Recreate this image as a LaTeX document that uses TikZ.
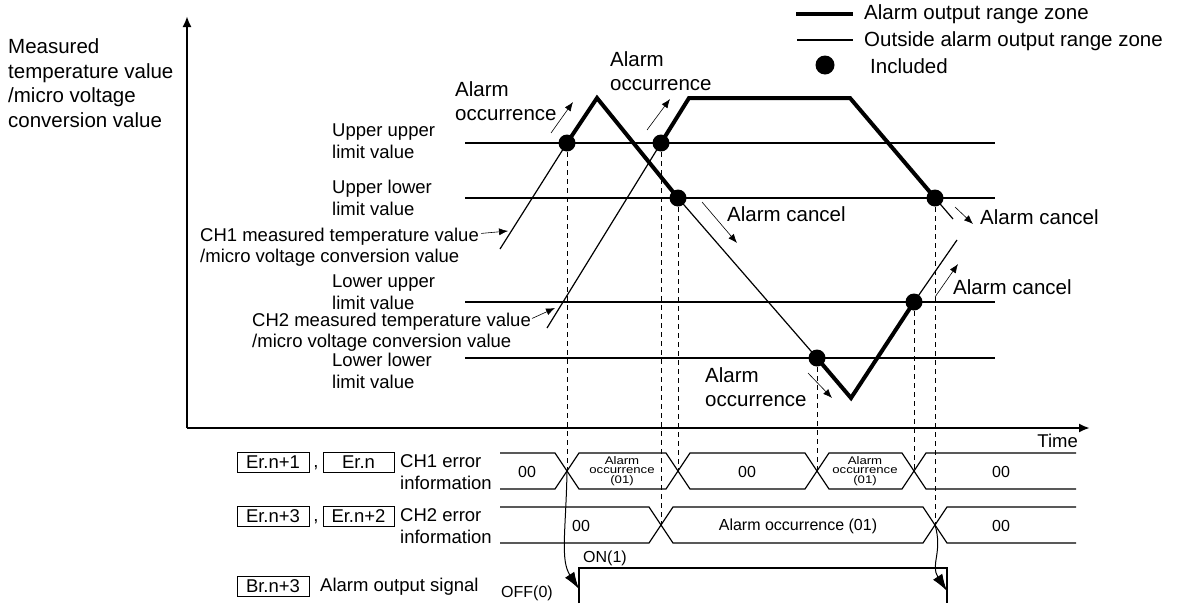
\documentclass[tikz,border=0pt]{standalone}
\usepackage{fontspec}
\setmainfont{Liberation Sans}
\newfontfamily\widefont[FakeStretch=1.2]{Liberation Sans}
\usetikzlibrary{positioning}
\usetikzlibrary{arrows.meta}

\begin{document}
\begin{tikzpicture}[x=1pt, y=-1pt,
    thinln/.style={line width=1.2pt},
    thickln/.style={line width=4pt},
    axisln/.style={line width=2.5pt, -{Latex[length=11pt,width=9pt]}},
    dashln/.style={line width=1pt, dash pattern=on 5pt off 4pt},
    incl/.style={circle, fill, inner sep=0pt, minimum size=17pt},
    tarr/.style={line width=0.6pt, -{Latex[length=9pt,width=7pt]}},
    bigarr/.style={line width=1pt, -{Latex[length=17pt,width=11pt]}},
    bigtxt/.style={font=\fontsize{20.5}{24.5}\selectfont, align=left, inner sep=0pt},
    midtxt/.style={font=\fontsize{18.5}{21.5}\selectfont, align=left, inner sep=0pt},
    valtxt/.style={font=\fontsize{16}{19}\selectfont, inner sep=0pt},
    celltxt/.style={font=\widefont\fontsize{11}{9.5}\selectfont, align=center, inner sep=0pt},
    regbox/.style={draw, line width=0.9pt, minimum width=72pt, minimum height=20pt,
      inner sep=0pt, font=\fontsize{18.5}{21}\selectfont}]
  \useasboundingbox (0,0) rectangle (1191,603);

  % axes
  \coordinate (org) at (187,428);
  \coordinate (ytop) at (187,16);
  \coordinate (xend) at (1090,428);
  \draw[axisln] (org) -- (ytop);
  \draw[axisln] (org) -- (xend);
  \node[bigtxt, anchor=west] (ylbl) at (8,83) {Measured\\temperature value\\/micro voltage\\conversion value};
  \node[midtxt, anchor=east] (tlbl) at (1078,441) {Time};

  % legend
  \coordinate (lg1a) at (796,14);
  \coordinate (lg1b) at (853,14);
  \coordinate (lg2a) at (797,40);
  \coordinate (lg2b) at (853,40);
  \draw[thickln] (lg1a) -- (lg1b);
  \draw[thinln] (lg2a) -- (lg2b);
  \node[incl, minimum size=19pt] (lgdot) at (825,65) {};
  \node[bigtxt, anchor=west] (lg1) at (864,14) {Alarm output range zone};
  \node[bigtxt, anchor=west] (lg2) at (864,41) {Outside alarm output range zone};
  \node[bigtxt, anchor=west] (lg3) at (870,66) {Included};

  % limit values
  \foreach \yy/\nm in {143/uu, 198/ul, 302/lu, 358/ll}{
    \coordinate (\nm a) at (465,\yy);
    \coordinate (\nm b) at (995,\yy);
    \draw[thinln] (\nm a) -- (\nm b);
  }
  \node[midtxt, anchor=west] (uulbl) at (332,141) {Upper upper\\limit value};
  \node[midtxt, anchor=west] (ullbl) at (332,198) {Upper lower\\limit value};
  \node[midtxt, anchor=west] (lulbl) at (332,292) {Lower upper\\limit value};
  \node[midtxt, anchor=west] (lllbl) at (332,371) {Lower lower\\limit value};

  % CH1 measured value
  \coordinate (c1s) at (500,249);
  \coordinate (D1) at (567,143);
  \coordinate (p1) at (597,98);
  \coordinate (D3) at (678,198);
  \coordinate (D6) at (817,358);
  \coordinate (v1) at (851,398);
  \coordinate (D5) at (914,302);
  \coordinate (c1e) at (957,240);
  \draw[thinln] (c1s) -- (D1);
  \draw[thickln] (D1) -- (p1) -- (D3);
  \draw[thinln] (D3) -- (D6);
  \draw[thickln] (D6) -- (v1) -- (D5);
  \draw[thinln] (D5) -- (c1e);

  % CH2 measured value
  \coordinate (c2s) at (547,328);
  \coordinate (D2) at (661,143);
  \coordinate (p2) at (689,98);
  \coordinate (p3) at (850,98);
  \coordinate (D4) at (935,198);
  \coordinate (c2e) at (953,219);
  \draw[thinln] (c2s) -- (D2);
  \draw[thickln] (D2) -- (p2) -- (p3) -- (D4);
  \draw[thinln] (D4) -- (c2e);

  \foreach \d in {D1,D2,D3,D4,D5,D6}
    \node[incl] at (\d) {};

  \node[midtxt, anchor=west] (ch1lbl) at (200,247) {CH1 measured temperature value\\/micro voltage conversion value};
  \node[midtxt, anchor=west] (ch2lbl) at (252,332) {CH2 measured temperature value\\/micro voltage conversion value};
  \coordinate (ch1t) at (508,231);
  \coordinate (ch2t) at (555,308);
  \draw[tarr] (ch1lbl.north east) ++(2,6) coordinate (ch1f) -- (ch1t);
  \draw[tarr] (ch2lbl.north east) ++(1,6) coordinate (ch2f) -- (ch2t);

  % alarm labels
  \node[bigtxt, anchor=west] (ao1) at (455,101) {Alarm\\occurrence};
  \node[bigtxt, anchor=west] (ao2) at (610,71) {Alarm\\occurrence};
  \node[bigtxt, anchor=west] (ao3) at (705,387) {Alarm\\occurrence};
  \node[bigtxt, anchor=west] (ac1) at (727,214) {Alarm cancel};
  \node[bigtxt, anchor=west] (ac2) at (980,217) {Alarm cancel};
  \node[bigtxt, anchor=west] (ac3) at (953,287) {Alarm cancel};
  \coordinate (ao1f) at (551,133); \coordinate (ao1t) at (573,102);
  \coordinate (ao2f) at (647,130); \coordinate (ao2t) at (670,99);
  \coordinate (ao3f) at (808,373); \coordinate (ao3t) at (832,398);
  \coordinate (ac1f) at (702,202); \coordinate (ac1t) at (737,243);
  \coordinate (ac2f) at (955,207); \coordinate (ac2t) at (973,224);
  \coordinate (ac3f) at (935,297); \coordinate (ac3t) at (958,264);
  \foreach \a in {ao1,ao2,ao3,ac1,ac2,ac3}
    \draw[tarr] (\a f) -- (\a t);

  % CH1 error information row
  \draw[thinln] (500,453) -- (555,453) -- (579,489) -- (666,489) -- (690,453) -- (805,453)
    -- (829,489) -- (902,489) -- (926,453) -- (1076,453);
  \draw[thinln] (500,489) -- (555,489) -- (579,453) -- (666,453) -- (690,489) -- (805,489)
    -- (829,453) -- (902,453) -- (926,489) -- (1076,489);
  \coordinate (x1) at (567,471);
  \coordinate (x2) at (678,471);
  \coordinate (x3) at (817,471);
  \coordinate (x4) at (914,471);
  \node[valtxt] (r1a) at (527,472) {00};
  \node[celltxt] (r1b) at (622,471) {Alarm\\occurrence\\(01)};
  \node[valtxt] (r1c) at (747,472) {00};
  \node[celltxt] (r1d) at (865,471) {Alarm\\occurrence\\(01)};
  \node[valtxt] (r1e) at (1001,472) {00};

  % CH2 error information row
  \draw[thinln] (500,507) -- (649,507) -- (673,543) -- (923,543) -- (947,507) -- (1076,507);
  \draw[thinln] (500,543) -- (649,543) -- (673,507) -- (923,507) -- (947,543) -- (1076,543);
  \coordinate (y1) at (661,525);
  \coordinate (y2) at (935,525);
  \node[valtxt] (r2a) at (581,526) {00};
  \node[valtxt] (r2b) at (798,526) {Alarm occurrence (01)};
  \node[valtxt] (r2c) at (1001,526) {00};

  % dashed guides
  \draw[dashln] (D1) -- (x1);
  \draw[dashln] (D3) -- (x2);
  \draw[dashln] (D6) -- (x3);
  \draw[dashln] (D5) -- (x4);
  \draw[dashln] (D2) -- (y1);
  \draw[dashln] (D4) -- (y2);

  % alarm output signal
  \coordinate (s0) at (579,603);
  \coordinate (s1) at (579,568);
  \coordinate (s2) at (947,568);
  \coordinate (s3) at (947,603);
  \draw[thinln] (s0) -- (s1) -- (s2) -- (s3);
  \node[valtxt] (onlbl) at (605,558) {ON(1)};
  \node[valtxt] (offlbl) at (527,593) {OFF(0)};
  \coordinate (sig1) at (579,589);
  \coordinate (sig2) at (947,591);
  \draw[bigarr] (x1) .. controls (566,530) and (560,560) .. (sig1);
  \draw[bigarr] (y2) .. controls (943,552) and (930,565) .. (sig2);

  % register names
  \node[regbox] (er1) at (273,462) {Er.n+1};
  \node[regbox, minimum width=71pt] (er0) at (358.5,462) {Er.n};
  \node[midtxt] (cm1) at (316,468) {,};
  \node[midtxt, anchor=west] (ch1err) at (400,472) {CH1 error\\information};
  \node[regbox] (er3) at (273,516) {Er.n+3};
  \node[regbox, minimum width=71pt] (er2) at (358.5,516) {Er.n+2};
  \node[midtxt] (cm2) at (316,522) {,};
  \node[midtxt, anchor=west] (ch2err) at (400,526) {CH2 error\\information};
  \node[regbox] (br3) at (273,586.5) {Br.n+3};
  \node[midtxt, anchor=west] (sigtxt) at (320,587) {Alarm output signal};
\end{tikzpicture}
\end{document}
